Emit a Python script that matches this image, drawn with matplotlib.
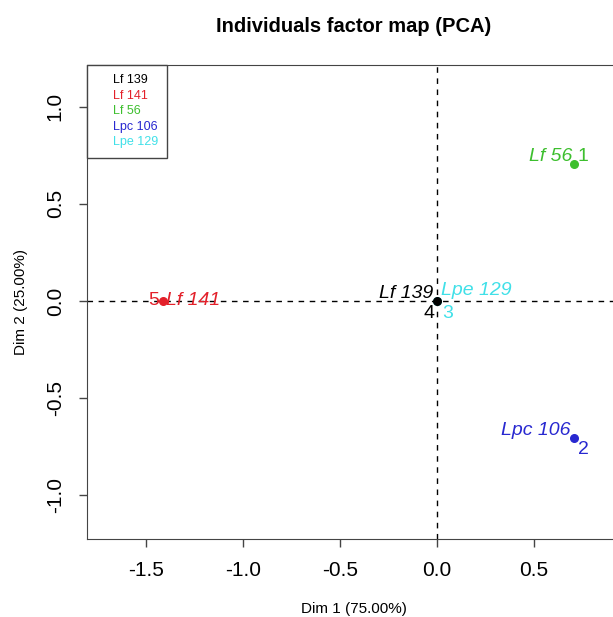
import matplotlib
matplotlib.use("Agg")
import matplotlib.pyplot as plt
from matplotlib.lines import Line2D

plt.rcParams['font.family'] = ['Liberation Sans', 'DejaVu Sans']

# individuals
names = ['Lf 56', 'Lpc 106', 'Lpe 129', 'Lf 139', 'Lf 141']
ids = ['1', '2', '3', '4', '5']
dim1 = [0.707, 0.707, 0.0, 0.0, -1.414]
dim2 = [0.707, -0.707, 0.0, 0.0, 0.0]
cols = ['#3dbf2e', '#2828d0', '#40e0e8', '#000000', '#e3202a']

# legend order
leg_names = ['Lf 139', 'Lf 141', 'Lf 56', 'Lpc 106', 'Lpe 129']
leg_cols = ['#000000', '#e3202a', '#3dbf2e', '#2828d0', '#40e0e8']

xticks = [-1.5, -1.0, -0.5, 0.0, 0.5]
yticks = [-1.0, -0.5, 0.0, 0.5, 1.0]

# label offsets in points: (name dx, name dy, name ha, id dx, id dy, id ha)
offs = [(-1.5, 5.5, 'right', 2.5, 5.5, 'left'),
        (-2.5, 5.5, 'right', 2.5, -8.5, 'left'),
        (3, 7.5, 'left', 4, -9, 'left'),
        (-3, 5.5, 'right', -2, -9, 'right'),
        (2.5, 0, 'left', -2.5, 0, 'right')]

fig = plt.figure(figsize=(6.13, 6.17), dpi=100)
ax = fig.add_axes([87/613, 78/617, 534/613, 474/617])

ax.axhline(0, color='black', ls=(0, (4, 4)), lw=1)
ax.axvline(0, color='black', ls=(0, (4, 4)), lw=1)

for i in range(len(names)):
    ax.scatter(dim1[i], dim2[i], s=30, color=cols[i], zorder=3)
    o = offs[i]
    ax.annotate(names[i], (dim1[i], dim2[i]), xytext=(o[0], o[1]),
                textcoords='offset points', ha=o[2], va='center',
                color=cols[i], fontsize=14, style='italic')
    ax.annotate(ids[i], (dim1[i], dim2[i]), xytext=(o[3], o[4]),
                textcoords='offset points', ha=o[5], va='center',
                color=cols[i], fontsize=14)

ax.set_xlim(-1.804, 0.948)
ax.set_ylim(-1.227, 1.216)
ax.set_xticks(xticks)
ax.set_yticks(yticks)
ax.set_xticklabels([f'{v:.1f}' for v in xticks])
ax.set_yticklabels([f'{v:.1f}' for v in yticks], rotation=90, va='center')
ax.tick_params(labelsize=15, length=6, width=1, color='#444444', pad=10)
for s in ax.spines.values():
    s.set_color('#444444')

ax.set_xlabel('Dim 1 (75.00%)', fontsize=11, labelpad=16)
ax.set_ylabel('Dim 2 (25.00%)', fontsize=11, labelpad=13)
ax.set_title('Individuals factor map (PCA)', fontsize=14.5, fontweight='bold', pad=24)

handles = [Line2D([], [], linestyle='none') for _ in leg_names]
leg = ax.legend(handles, leg_names, loc='upper left', borderaxespad=0,
                fancybox=False, framealpha=1, edgecolor='#444444',
                fontsize=9, handlelength=1.0, handletextpad=0.3,
                labelspacing=0.28, borderpad=0.75, labelcolor=leg_cols)
leg.get_frame().set_linewidth(1)

fig.savefig('out.png', dpi=100)
